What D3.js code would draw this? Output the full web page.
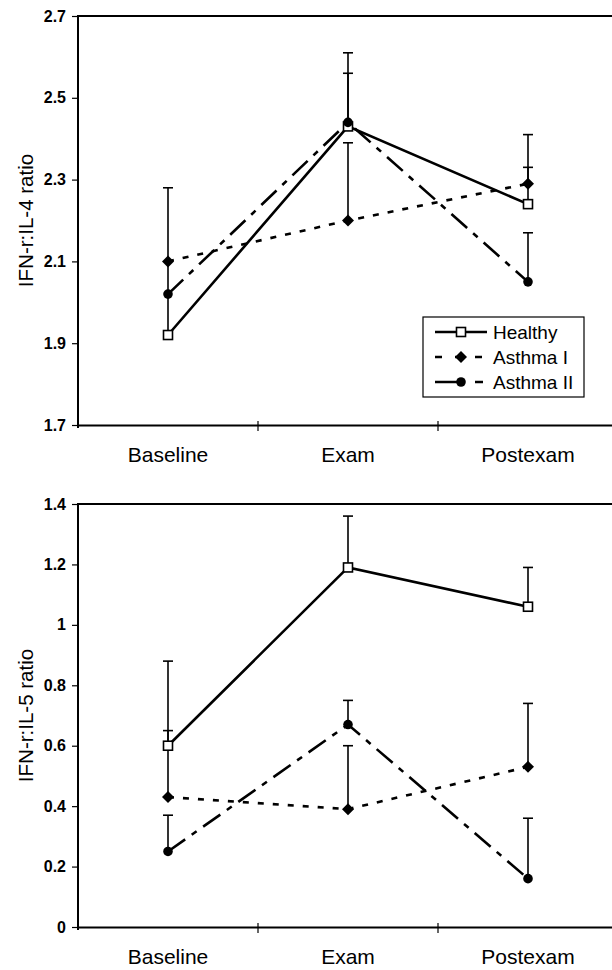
<!DOCTYPE html>
<html>

<head>
    <script type="text/javascript" src="https://cdnjs.cloudflare.com/ajax/libs/d3/7.8.5/d3.min.js"></script>
    <style>
        body {
            margin: 0;
            background: white;
        }

        svg text {
            fill: black;
            font-family: "Liberation Sans", Arial, sans-serif;
        }

        .tick-label {
            font-size: 16px;
            font-weight: bold;
            text-anchor: end;
        }

        .cat-label {
            font-size: 21px;
            text-anchor: middle;
        }

        .y-title {
            font-size: 20.5px;
            text-anchor: middle;
        }

        .legend text {
            font-size: 19px;
        }
    </style>
</head>

<body>
    <script>
        // categories and tick labels
        var categories = ['Baseline', 'Exam', 'Postexam'];
        var seriesNames = ['Healthy', 'Asthma I', 'Asthma II'];
        var il4Ticks = [1.7, 1.9, 2.1, 2.3, 2.5, 2.7];
        var il5Ticks = [0, 0.2, 0.4, 0.6, 0.8, 1, 1.2, 1.4];

        // IFN-r:IL-4 ratio (means and upper error bar ends)
        var il4Healthy = [1.92, 2.43, 2.24];
        var il4AsthmaI = [2.10, 2.20, 2.29];
        var il4AsthmaII = [2.02, 2.44, 2.05];
        var il4HealthyErr = [2.28, 2.61, 2.41];
        var il4AsthmaIErr = [null, 2.39, 2.33];
        var il4AsthmaIIErr = [null, 2.56, 2.17];

        // IFN-r:IL-5 ratio
        var il5Healthy = [0.60, 1.19, 1.06];
        var il5AsthmaI = [0.43, 0.39, 0.53];
        var il5AsthmaII = [0.25, 0.67, 0.16];
        var il5HealthyErr = [0.88, 1.36, 1.19];
        var il5AsthmaIErr = [0.65, 0.60, 0.74];
        var il5AsthmaIIErr = [0.37, 0.75, 0.36];

        var styles = [
            { dash: null, legendDash: null, marker: 'square' },
            { dash: '6,9', legendDash: '7,13', marker: 'diamond' },
            { dash: '21,8,6,8', legendDash: '24,16,8,20', marker: 'circle' }
        ];

        var svg = d3.select('body')
            .append('svg')
            .attr('width', 612)
            .attr('height', 970);

        var x = d3.scaleBand()
            .domain(categories)
            .range([78, 618]);

        function drawMarker(g, type, cx, cy) {
            if (type === 'square') {
                g.append('rect')
                    .attr('x', cx - 4.5).attr('y', cy - 4.5)
                    .attr('width', 9).attr('height', 9)
                    .attr('fill', 'white')
                    .attr('stroke', 'black')
                    .attr('stroke-width', 1.6);
            } else if (type === 'diamond') {
                g.append('path')
                    .attr('d', 'M0,-6L6,0L0,6L-6,0Z')
                    .attr('transform', 'translate(' + cx + ',' + cy + ')')
                    .attr('fill', 'black');
            } else {
                g.append('circle')
                    .attr('cx', cx).attr('cy', cy)
                    .attr('r', 4.8)
                    .attr('fill', 'black');
            }
        }

        function panel(opts) {
            var y = d3.scaleLinear()
                .domain(opts.domain)
                .range([opts.bottom, opts.top]);
            var g = svg.append('g');

            // frame: left, top, bottom
            g.append('line')
                .attr('x1', 78).attr('x2', 78)
                .attr('y1', opts.top).attr('y2', opts.bottom + 3)
                .attr('stroke', 'black').attr('stroke-width', 2);
            g.append('line')
                .attr('x1', 77).attr('x2', 620)
                .attr('y1', opts.top).attr('y2', opts.top)
                .attr('stroke', 'black').attr('stroke-width', 1.8);

            var xAxis = g.append('g')
                .attr('transform', 'translate(0,' + opts.bottom + ')')
                .call(d3.axisBottom(x).tickSize(0).tickFormat(''));
            xAxis.select('.domain').attr('stroke-width', 2);

            // category boundary ticks
            g.selectAll('.xtick')
                .data(categories.slice(1))
                .enter().append('line')
                .attr('x1', function(d) { return x(d); })
                .attr('x2', function(d) { return x(d); })
                .attr('y1', opts.bottom - 4).attr('y2', opts.bottom + 6)
                .attr('stroke', 'black').attr('stroke-width', 1.2);

            g.selectAll('.cat')
                .data(categories)
                .enter().append('text')
                .attr('class', 'cat-label')
                .attr('x', function(d) { return x(d) + x.bandwidth() / 2; })
                .attr('y', opts.bottom + 37)
                .text(function(d) { return d; });

            // y ticks
            var yAxis = g.append('g')
                .attr('transform', 'translate(78,0)')
                .call(d3.axisLeft(y).tickValues(opts.ticks).tickSize(6).tickFormat(''));
            yAxis.select('.domain').remove();
            yAxis.selectAll('.tick line').attr('stroke-width', 1.2);

            g.selectAll('.ylab')
                .data(opts.ticks)
                .enter().append('text')
                .attr('class', 'tick-label')
                .attr('x', 66)
                .attr('y', function(d) { return y(d) + 5.5; })
                .text(function(d) { return String(d); });

            g.append('text')
                .attr('class', 'y-title')
                .attr('transform', 'translate(33,' + (opts.top + opts.bottom) / 2 + ') rotate(-90)')
                .text(opts.title);

            var cx = function(i) { return x(categories[i]) + x.bandwidth() / 2; };

            // error bars (upper only)
            opts.errors.forEach(function(errs, s) {
                errs.forEach(function(e, i) {
                    if (e === null) return;
                    var v = opts.series[s][i];
                    g.append('line')
                        .attr('x1', cx(i)).attr('x2', cx(i))
                        .attr('y1', y(v)).attr('y2', y(e))
                        .attr('stroke', 'black').attr('stroke-width', 1.6);
                    g.append('line')
                        .attr('x1', cx(i) - 5).attr('x2', cx(i) + 5)
                        .attr('y1', y(e)).attr('y2', y(e))
                        .attr('stroke', 'black').attr('stroke-width', 1.6);
                });
            });

            var line = d3.line()
                .x(function(d, i) { return cx(i); })
                .y(function(d) { return y(d); });

            opts.series.forEach(function(vals, s) {
                g.append('path')
                    .datum(vals)
                    .attr('d', line)
                    .attr('fill', 'none')
                    .attr('stroke', 'black')
                    .attr('stroke-width', 2.6)
                    .attr('stroke-dasharray', styles[s].dash);
            });

            opts.series.forEach(function(vals, s) {
                vals.forEach(function(v, i) {
                    drawMarker(g, styles[s].marker, cx(i), y(v));
                });
            });

            return g;
        }

        var topPanel = panel({
            domain: [1.7, 2.7], top: 16, bottom: 425,
            ticks: il4Ticks, title: 'IFN-r:IL-4 ratio',
            series: [il4Healthy, il4AsthmaI, il4AsthmaII],
            errors: [il4HealthyErr, il4AsthmaIErr, il4AsthmaIIErr]
        });

        panel({
            domain: [0, 1.4], top: 504, bottom: 927,
            ticks: il5Ticks, title: 'IFN-r:IL-5 ratio',
            series: [il5Healthy, il5AsthmaI, il5AsthmaII],
            errors: [il5HealthyErr, il5AsthmaIErr, il5AsthmaIIErr]
        });

        // legend
        var legend = topPanel.append('g')
            .attr('class', 'legend')
            .attr('transform', 'translate(423,317)');

        legend.append('rect')
            .attr('width', 161).attr('height', 80)
            .attr('fill', 'white')
            .attr('stroke', 'black')
            .attr('stroke-width', 1.2);

        var item = legend.selectAll('.item')
            .data(seriesNames)
            .enter().append('g')
            .attr('transform', function(d, i) { return 'translate(0,' + (15 + i * 25) + ')'; });

        item.append('line')
            .attr('x1', 12).attr('x2', 64)
            .attr('stroke', 'black')
            .attr('stroke-width', 2.6)
            .attr('stroke-dasharray', function(d, i) { return styles[i].legendDash; });

        item.each(function(d, i) {
            drawMarker(d3.select(this), styles[i].marker, 38, 0);
        });

        item.append('text')
            .attr('x', 70)
            .attr('y', 6.5)
            .text(function(d) { return d; });

    </script>
</body>

</html>
